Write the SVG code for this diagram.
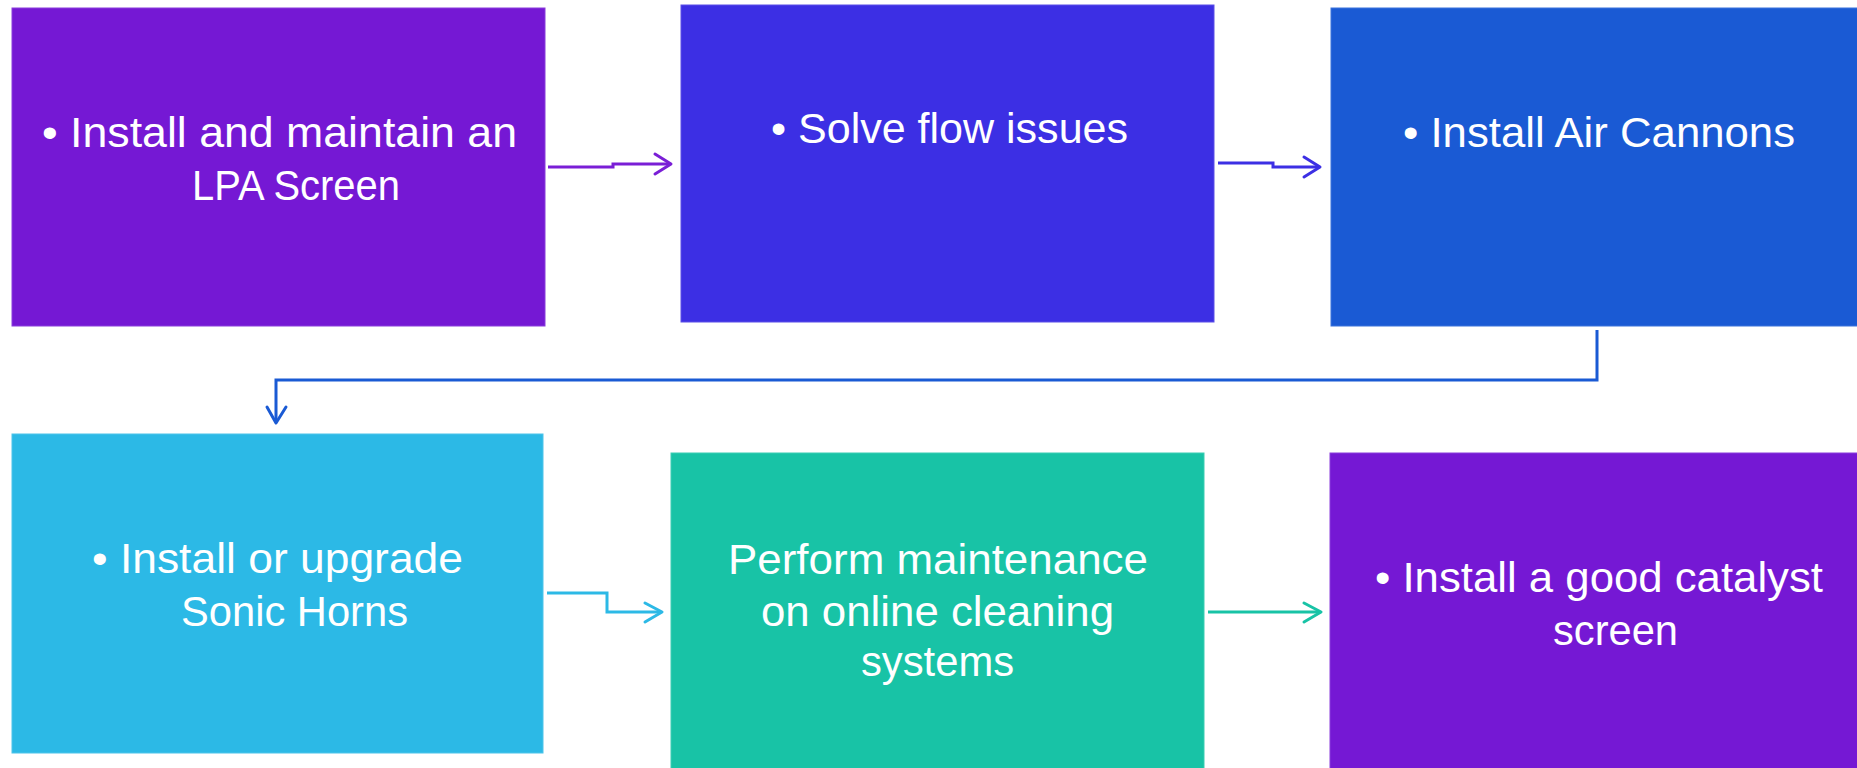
<svg xmlns="http://www.w3.org/2000/svg" width="1857" height="768" viewBox="0 0 1857 768">
<defs>
<style>
.t{font-family:"Liberation Sans",Arial,sans-serif;font-size:43px;fill:#ffffff}
.c{fill:none;stroke-width:3}
.h{fill:none;stroke-width:3;stroke-linecap:round;stroke-linejoin:round}
</style>
</defs>
<rect width="1857" height="768" fill="#ffffff"/>
<g id="connectors">
<g stroke="#7A1ED6"><path class="c" d="M548,167 H613 V164 H670"/><path class="h" d="M655,154 L671,164 L655,174"/></g>
<g stroke="#3C2FE4"><path class="c" d="M1218,163 H1273 V167 H1319"/><path class="h" d="M1304,157 L1320,167 L1304,177"/></g>
<g stroke="#1A5AD4"><path class="c" d="M1597,330 V380 H276 V422"/><path class="h" d="M267,407 L276,423 L286,407"/></g>
<g stroke="#2CB9E6"><path class="c" d="M547,593 H607 V612 H661"/><path class="h" d="M645,603 L662,612 L645,622"/></g>
<g stroke="#18C3A6"><path class="c" d="M1208,612 H1320"/><path class="h" d="M1304,603 L1321,612 L1304,622"/></g>
</g>
<g id="node1">
<rect x="12" y="8" width="533" height="318" fill="#7518D4" stroke="#8a3ddc" stroke-width="1"/>
<text class="t" x="42" y="147" textLength="475" lengthAdjust="spacingAndGlyphs">• Install and maintain an</text>
<text class="t" x="192" y="200" textLength="208" lengthAdjust="spacingAndGlyphs">LPA Screen</text>
</g>
<g id="node2">
<rect x="681" y="5" width="533" height="317" fill="#3C2FE4" stroke="#5a4fe8" stroke-width="1"/>
<text class="t" x="771" y="143" textLength="357" lengthAdjust="spacingAndGlyphs">• Solve flow issues</text>
</g>
<g id="node3">
<rect x="1331" y="8" width="533" height="318" fill="#1A5AD4" stroke="#3a72db" stroke-width="1"/>
<text class="t" x="1403" y="147" textLength="392" lengthAdjust="spacingAndGlyphs">• Install Air Cannons</text>
</g>
<g id="node4">
<rect x="12" y="434" width="531" height="319" fill="#2CB9E6" stroke="#4cc4ea" stroke-width="1"/>
<text class="t" x="92" y="573" textLength="371" lengthAdjust="spacingAndGlyphs">• Install or upgrade</text>
<text class="t" x="181" y="626" textLength="227" lengthAdjust="spacingAndGlyphs">Sonic Horns</text>
</g>
<g id="node5">
<rect x="671" y="453" width="533" height="320" fill="#18C3A6" stroke="#3bcdb3" stroke-width="1"/>
<text class="t" x="728" y="574" textLength="420" lengthAdjust="spacingAndGlyphs">Perform maintenance</text>
<text class="t" x="761" y="626" textLength="353" lengthAdjust="spacingAndGlyphs">on online cleaning</text>
<text class="t" x="861" y="676" textLength="153" lengthAdjust="spacingAndGlyphs">systems</text>
</g>
<g id="node6">
<rect x="1330" y="453" width="533" height="320" fill="#7518D4" stroke="#8a3ddc" stroke-width="1"/>
<text class="t" x="1375" y="592" textLength="448" lengthAdjust="spacingAndGlyphs">• Install a good catalyst</text>
<text class="t" x="1553" y="645" textLength="125" lengthAdjust="spacingAndGlyphs">screen</text>
</g>
</svg>
